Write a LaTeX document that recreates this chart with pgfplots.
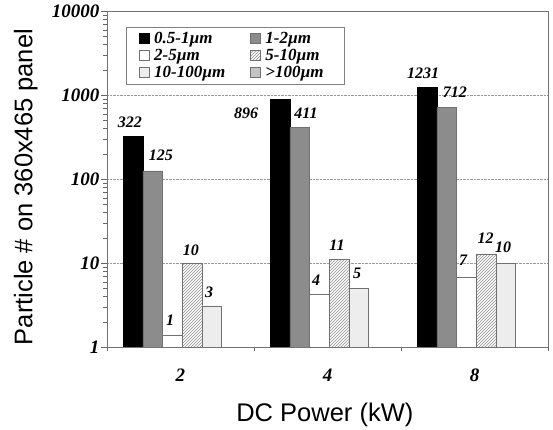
\documentclass[border=0pt]{standalone}
\usepackage{pgfplots}
\pgfplotsset{compat=1.18}
\usepackage{fontspec}
\setmainfont{Liberation Serif}
\newfontfamily\sansf{Liberation Sans}
\usetikzlibrary{patterns}
\definecolor{barGray}{HTML}{8C8C8C}
\definecolor{edgeGray}{HTML}{707070}
\definecolor{lightFill}{HTML}{EDEDED}
\definecolor{hundFill}{HTML}{C4C4C4}
\pgfplotsset{
  mybar/.style={ybar, bar width=0.134,
    legend image code/.code={\pgfpathmoveto{\pgfpoint{0pt}{0.5pt}}\pgfpathlineto{\pgfpoint{23pt}{0.5pt}}\pgfusepath{}\draw[##1] (10pt,-4.5pt) rectangle (20pt,5.5pt);}},
}
\tikzset{lab/.style={font=\fontsize{16}{16}\selectfont\bfseries\itshape, inner sep=0pt}}
\begin{document}
\begin{tikzpicture}
\path[use as bounding box] (-107pt,-83pt) rectangle (446pt,347pt);
\begin{axis}[
  at={(0pt,0pt)}, anchor=south west,
  width=441pt, height=336pt, scale only axis,
  ymode=log, ymin=1, ymax=10000,
  xmin=-0.5, xmax=2.5,
  xtick={0,1,2}, xticklabels={2,4,8},
  ytick={1,10,100,1000,10000}, yticklabels={1,10,100,1000,10000},
  minor xtick={-0.5,0.5,1.5,2.5},
  ytick pos=left, xtick pos=bottom,
  tick align=outside,
  major tick length=6pt, minor tick length=4pt,
  x tick style={draw=none},
  minor x tick style={draw=black!60},
  y tick style={draw=black!60},
  axis line style={draw=black!55},
  ymajorgrids, major grid style={densely dotted, draw=black!40},
  tick label style={font=\fontsize{19}{19}\selectfont\bfseries\itshape},
  yticklabel style={xshift=2pt},
  xticklabel style={yshift=-12pt},
  xlabel={\sansf DC Power (kW)},
  ylabel={\sansf Particle \# on 360x465 panel},
  label style={font=\fontsize{25.5}{25.5}\selectfont},
  xlabel style={at={(axis description cs:0.494,-0.202)}, anchor=center},
  ylabel style={at={(axis description cs:-0.184,0.476)}, anchor=center},
  legend columns=2,
  legend cell align=left,
  legend style={at={(0.043,0.952)}, anchor=north west, draw=black!50,
    font=\fontsize{17}{17}\selectfont\bfseries\itshape,
    inner ysep=3pt,
    /tikz/every even column/.append style={column sep=13pt},
    row sep=0pt},
]
\addplot[mybar, bar shift=-0.323, fill=black, draw=black] coordinates {(0,322) (1,896) (2,1231)};
\addlegendentry{0.5-1µm}
\addplot[mybar, bar shift=-0.189, fill=barGray, draw=edgeGray] coordinates {(0,125) (1,411) (2,712)};
\addlegendentry{1-2µm}
\addplot[mybar, bar shift=-0.055, fill=white, draw=edgeGray] coordinates {(0,1.4) (1,4.2) (2,6.8)};
\addlegendentry{2-5µm}
\addplot[mybar, bar shift=0.079, fill=white, draw=edgeGray, postaction={pattern=north east lines, pattern color=black!45}] coordinates {(0,10) (1,11) (2,12.8)};
\addlegendentry{5-10µm}
\addplot[mybar, bar shift=0.213, fill=lightFill, draw=edgeGray] coordinates {(0,3.1) (1,5) (2,10)};
\addlegendentry{10-100µm}
\addlegendimage{mybar, fill=hundFill, draw=edgeGray}
\addlegendentry{\makebox[74pt][l]{>100µm}}
\node[lab] at (axis cs:-0.344,477) {322};
\node[lab] at (axis cs:-0.133,193) {125};
\node[lab] at (axis cs:-0.071,2.1) {1};
\node[lab] at (axis cs:0.071,14.3) {10};
\node[lab] at (axis cs:0.194,4.5) {3};
\node[lab] at (axis cs:0.446,611) {896};
\node[lab] at (axis cs:0.854,611) {411};
\node[lab] at (axis cs:0.922,6.3) {4};
\node[lab] at (axis cs:1.065,16.4) {11};
\node[lab] at (axis cs:1.201,7.6) {5};
\node[lab] at (axis cs:1.650,1828) {1231};
\node[lab] at (axis cs:1.867,1086) {712};
\node[lab] at (axis cs:1.922,10.9) {7};
\node[lab] at (axis cs:2.075,19.8) {12};
\node[lab] at (axis cs:2.194,15.5) {10};
\end{axis}
\end{tikzpicture}
\end{document}
